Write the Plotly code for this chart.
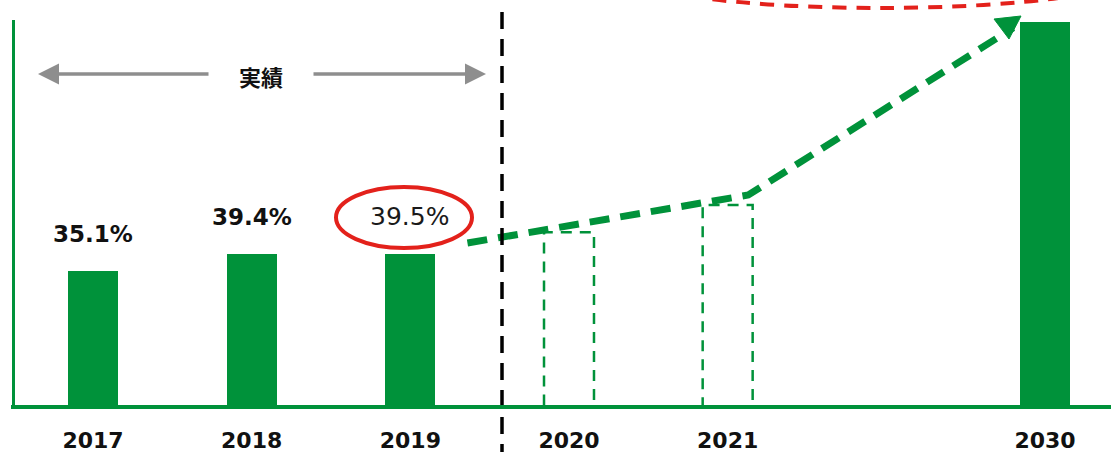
import plotly.graph_objects as go

# ---------------- data ----------------
categories = ["2017", "2018", "2019", "2020", "2021", " ", "2030"]
actual_years = ["2017", "2018", "2019"]
actual_values = [35.1, 39.4, 39.5]
forecast_years = ["2020", "2021"]
forecast_values = [45.1, 52.1]
target_year = "2030"
target_value = 99.3
tick_labels = ["2017", "2018", "2019", "2020", "2021", "", "2030"]
actual_label = "実績"

# ---------------- styling / geometry ----------------
W, H = 1111, 452
ML, MR, MT, MB = 12, 0, 0, 45
PW, PH = W - ML - MR, H - MT - MB
GREEN = "#00923A"
RED = "#E3211B"
GRAY = "#8E8E8E"
BAR_W = 0.315
Y_MAX = 105
X_RANGE = [-0.5105, 6.416]


def px_x(px):
    return (px - ML) / PW


def px_y(py):
    return (MT + PH - py) / PH


idx = {c: i for i, c in enumerate(categories)}

fig = go.Figure()

fig.add_trace(go.Bar(x=actual_years, y=actual_values, width=BAR_W,
                     marker=dict(color=GREEN, line=dict(width=0)),
                     hoverinfo="skip", showlegend=False))
fig.add_trace(go.Bar(x=[target_year], y=[target_value], width=BAR_W,
                     marker=dict(color=GREEN, line=dict(width=0)),
                     hoverinfo="skip", showlegend=False))

shapes = []
annotations = []

# forecast dashed outlines
for yr, v in zip(forecast_years, forecast_values):
    i = idx[yr]
    shapes.append(dict(type="rect", xref="x", yref="y",
                       x0=i - BAR_W / 2, x1=i + BAR_W / 2, y0=0, y1=v,
                       line=dict(color=GREEN, width=2.5, dash="11px,8px"),
                       fillcolor="rgba(0,0,0,0)", layer="above"))

# value labels
for k, (yr, v) in enumerate(zip(actual_years, actual_values)):
    last = k == len(actual_values) - 1
    annotations.append(dict(
        x=idx[yr], y=v, xref="x", yref="y", text=f"{v:.1f}%", showarrow=False,
        xanchor="center", yanchor="middle", yshift=37,
        xshift=-1 if last else 0,
        font=dict(family="DejaVu Sans", size=25 if last else 23,
                  color="#1a1a1a" if last else "#111111",
                  weight="normal" if last else "bold")))

# red ellipse around latest actual
shapes.append(dict(type="circle", xref="paper", yref="paper",
                   x0=px_x(336), x1=px_x(472), y0=px_y(248), y1=px_y(187),
                   line=dict(color=RED, width=4)))

# green dashed trend arrow
i19, i21, i30 = idx[actual_years[-1]], idx[forecast_years[-1]], idx[target_year]
pts = [(i19 + 0.36, actual_values[-1] + 2.8),
       (i21 + 0.13, forecast_values[-1] + 2.6),
       (i30 - 0.20, target_value - 1.5)]
path = "M " + " L ".join(f"{x},{y}" for x, y in pts)
shapes.append(dict(type="path", xref="x", yref="y", path=path,
                   line=dict(color=GREEN, width=7, dash="20px,11px")))
# arrow head
tri = [(1021, 16), (994, 19), (1009, 39)]
shapes.append(dict(type="path", xref="paper", yref="paper",
                   path="M " + " L ".join(f"{px_x(a)},{px_y(b)}" for a, b in tri) + " Z",
                   fillcolor=GREEN, line=dict(color=GREEN, width=1)))

# red dashed partial ellipse at top
shapes.append(dict(type="circle", xref="paper", yref="paper",
                   x0=px_x(610), x1=px_x(1150), y0=px_y(8), y1=px_y(-72),
                   line=dict(color=RED, width=4, dash="14px,10px")))

# black dashed separator
shapes.append(dict(type="line", xref="paper", yref="paper",
                   x0=px_x(502), x1=px_x(502), y0=px_y(12), y1=px_y(452),
                   line=dict(color="black", width=3.5, dash="17px,10px")))

# axes lines
shapes.append(dict(type="line", xref="paper", yref="paper",
                   x0=px_x(13.5), x1=px_x(13.5), y0=px_y(20), y1=px_y(407),
                   line=dict(color=GREEN, width=3)))
shapes.append(dict(type="line", xref="paper", yref="paper",
                   x0=px_x(11), x1=px_x(1111), y0=px_y(407), y1=px_y(407),
                   line=dict(color=GREEN, width=4)))

# gray double arrow with label
annotations.append(dict(x=px_x(38), y=px_y(74), xref="paper", yref="paper",
                        ax=172, ay=0, axref="pixel", ayref="pixel", text="",
                        showarrow=True, arrowhead=2, arrowsize=1.2,
                        arrowwidth=3.5, arrowcolor=GRAY))
annotations.append(dict(x=px_x(486), y=px_y(74), xref="paper", yref="paper",
                        ax=-174, ay=0, axref="pixel", ayref="pixel", text="",
                        showarrow=True, arrowhead=2, arrowsize=1.2,
                        arrowwidth=3.5, arrowcolor=GRAY))
annotations.append(dict(x=px_x(261), y=px_y(76), xref="paper", yref="paper",
                        xanchor="center", yanchor="middle",
                        text=actual_label, showarrow=False,
                        font=dict(family="Noto Sans CJK JP", size=22,
                                  color="#111111", weight="bold")))

fig.update_layout(
    width=W, height=H,
    margin=dict(l=ML, r=MR, t=MT, b=MB),
    paper_bgcolor="white", plot_bgcolor="white",
    shapes=shapes, annotations=annotations,
    bargap=0,
    xaxis=dict(type="category", categoryorder="array", categoryarray=categories,
               tickvals=categories, ticktext=tick_labels,
               range=X_RANGE, showgrid=False, zeroline=False, showline=False,
               ticks="", tickfont=dict(family="DejaVu Sans", size=22,
                                       color="#111111", weight="bold"),
               ticklabelstandoff=18),
    yaxis=dict(range=[0, Y_MAX], showgrid=False, zeroline=False,
               showline=False, showticklabels=False, ticks=""),
)

fig.write_html("out.html", config={"displayModeBar": False, "staticPlot": True},
               post_script="document.body.style.margin='0';document.body.style.overflow='hidden';")
